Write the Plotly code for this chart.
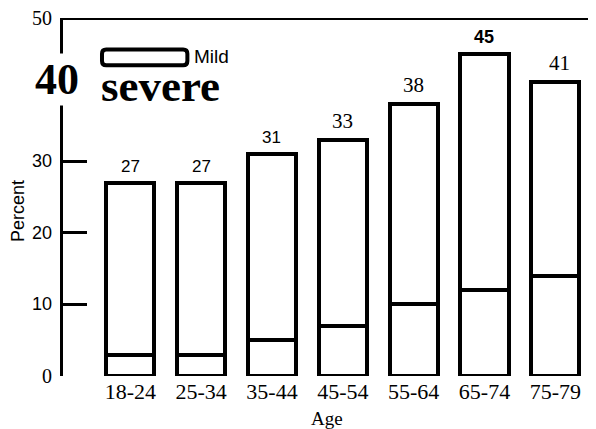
import plotly.graph_objects as go

categories = ["18-24", "25-34", "35-44", "45-54", "55-64", "65-74", "75-79"]
totals = [27, 27, 31, 33, 38, 45, 41]
severe = [3, 3, 5, 7, 10, 12, 14]
mild = [t - s for t, s in zip(totals, severe)]
y_ticks = [0, 10, 20, 30, 40, 50]
y_tick_labels = ["0", "10", "20", "30", "40", "50"]

SERIF = "Liberation Serif"
SANS = "Liberation Sans"

label_fonts = [
    dict(family=SANS, size=17, color="black"),
    dict(family=SANS, size=17, color="black"),
    dict(family=SANS, size=17, color="black"),
    dict(family=SERIF, size=21, color="black"),
    dict(family=SERIF, size=21, color="black"),
    dict(family=SANS, size=18, color="black", weight="bold"),
    dict(family=SERIF, size=21, color="black"),
]
label_xshift = [0, 0, 0, 0, 0, 0, 4]

tick_fonts = {
    0: dict(family=SERIF, size=20, color="black"),
    10: dict(family=SANS, size=18, color="black"),
    20: dict(family=SANS, size=18, color="black"),
    30: dict(family=SANS, size=18, color="black"),
    40: dict(family=SERIF, size=44, color="black", weight="bold"),
    50: dict(family=SERIF, size=20, color="black"),
}

fig = go.Figure()
fig.add_trace(go.Bar(
    x=categories, y=severe, name="severe", width=0.68,
    marker=dict(color="white", line=dict(color="black", width=4)),
))
fig.add_trace(go.Bar(
    x=categories, y=mild, name="Mild", width=0.68,
    marker=dict(color="white", line=dict(color="black", width=4)),
))

annotations = []
for i, (c, t) in enumerate(zip(categories, totals)):
    annotations.append(dict(
        x=c, y=t, xref="x", yref="y", text=str(t), showarrow=False,
        yanchor="bottom", yshift=5, xshift=label_xshift[i], font=label_fonts[i],
    ))

for v, lab in zip(y_ticks, y_tick_labels):
    a = dict(x=0, y=v, xref="paper", yref="y", text=lab, showarrow=False,
             xanchor="right", yanchor="middle", xshift=-9, font=tick_fonts[v])
    if v == 40:
        a.update(xanchor="center", xshift=-6, yshift=10, bgcolor="white")
    annotations.append(a)

# legend texts
annotations.append(dict(x=0.245, y=0.893, xref="paper", yref="paper", text="Mild",
                        showarrow=False, xanchor="left", yanchor="middle",
                        font=dict(family=SANS, size=19, color="black")))
annotations.append(dict(x=0.068, y=0.81, xref="paper", yref="paper", text="severe",
                        showarrow=False, xanchor="left", yanchor="middle",
                        font=dict(family=SERIF, size=45, color="black", weight="bold")))
annotations.append(dict(x=0.5, y=-0.118, xref="paper", yref="paper", text="Age",
                        showarrow=False, xanchor="center", yanchor="middle",
                        font=dict(family=SERIF, size=19, color="black")))
annotations.append(dict(x=-0.084, y=0.46, xref="paper", yref="paper", text="Percent",
                        showarrow=False, textangle=-90, xanchor="center", yanchor="middle",
                        font=dict(family=SANS, size=18, color="black")))

shapes = [
    dict(type="line", xref="paper", yref="y", x0=-0.003, x1=1.02, y0=50, y1=50,
         line=dict(color="black", width=4)),
    dict(type="path", xref="paper", yref="paper",
         path="M 0.082,0.912 L 0.228,0.912 Q 0.236,0.912 0.236,0.900 L 0.236,0.880 "
              "Q 0.236,0.868 0.228,0.868 L 0.082,0.868 Q 0.074,0.868 0.074,0.880 "
              "L 0.074,0.900 Q 0.074,0.912 0.082,0.912 Z",
         line=dict(color="black", width=4), fillcolor="white"),
]

fig.update_layout(
    barmode="stack",
    width=588, height=421,
    margin=dict(l=55, r=6, t=10, b=53),
    paper_bgcolor="white", plot_bgcolor="white",
    showlegend=False,
    annotations=annotations,
    shapes=shapes,
    xaxis=dict(
        range=[-0.95, 6.49], showgrid=False, zeroline=False, showline=False,
        ticks="", tickfont=dict(family=SERIF, size=22, color="black"),
    ),
    yaxis=dict(
        range=[0, 50], showgrid=False, zeroline=False, showline=True,
        linecolor="black", linewidth=3, showticklabels=False,
        ticks="inside", tickvals=[0, 10, 20, 30], ticklen=24, tickwidth=3,
        tickcolor="black",
    ),
)

fig.write_html("out.html")
